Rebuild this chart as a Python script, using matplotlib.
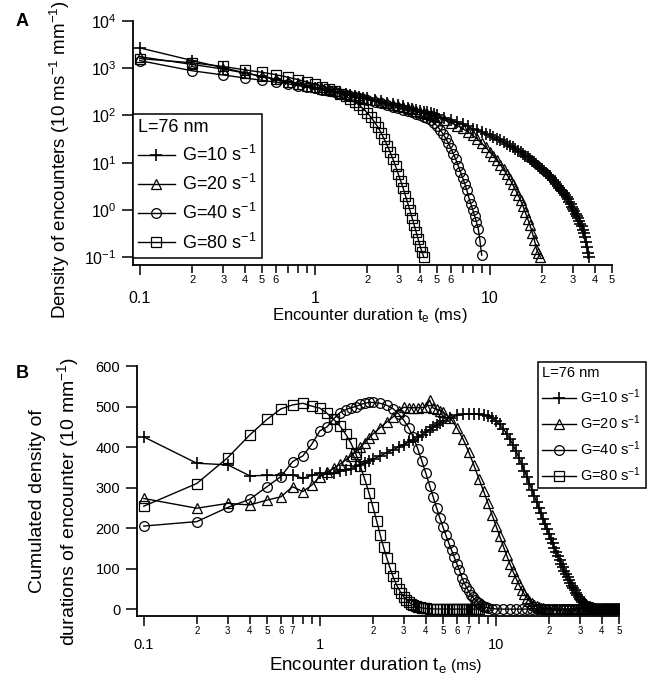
import matplotlib
matplotlib.use('Agg')
import matplotlib.pyplot as plt
from matplotlib.ticker import FixedLocator

plt.rcParams['font.family'] = ['Liberation Sans', 'DejaVu Sans']
plt.rcParams['mathtext.default'] = 'regular'

# ---------------- Panel A : density of encounters ----------------
tA_10 = [0.1, 0.2, 0.3, 0.4, 0.5, 0.6, 0.7, 0.8, 0.9, 1.0, 1.1, 1.2, 1.3, 1.4, 1.5, 1.6, 1.7, 1.8, 1.9, 2.0,
         2.2, 2.4, 2.6, 2.8, 3.0, 3.2, 3.4, 3.6, 3.8, 4.0, 4.2, 4.4, 4.6, 4.8, 5.0,
         5.5, 6.0, 6.5, 7.0, 7.5, 8.0, 8.5, 9.0, 9.5, 10.0, 10.5, 11.0, 11.5, 12.0, 12.5, 13.0, 13.5, 14.0,
         14.5, 15.0, 15.5, 16.0, 16.5, 17.0, 17.5, 18.0, 18.5, 19.0, 19.5, 20.0, 20.5, 21.0, 21.5, 22.0,
         22.5, 23.0, 23.5, 24.0, 24.5, 25.0, 25.5, 26.0, 26.5, 27.0, 27.5, 28.0, 28.5, 29.0, 29.5, 30.0,
         30.5, 31.0, 31.5, 32.0, 32.5, 33.0, 33.5, 34.0, 34.5, 35.0, 35.5, 36.0, 36.5, 37.0]
yA_10 = [2700, 1450, 1020, 800, 670, 580, 515, 465, 425, 390, 365, 340, 320, 302, 287, 273, 260, 249, 238, 229,
         212, 198, 186, 174, 163, 155, 147, 139, 132, 126, 121, 116, 111, 105, 100,
         89, 79, 72, 65, 59, 52, 48, 45, 41, 37.6, 34.7, 31.6, 29.5, 27, 24.8, 22.9, 21.1, 19.5,
         18, 16.6, 15.3, 14.1, 13, 12, 11.1, 10.2, 9.3, 8.6, 7.85, 7.2, 6.6, 6.1, 5.6, 5.1,
         4.7, 4.3, 3.9, 3.55, 3.2, 2.95, 2.7, 2.45, 2.24, 2.04, 1.86, 1.66, 1.48, 1.32, 1.17, 1.05,
         0.93, 0.83, 0.74, 0.66, 0.59, 0.51, 0.45, 0.38, 0.32, 0.26, 0.21, 0.16, 0.12, 0.10]

tA_20 = [0.1, 0.2, 0.3, 0.4, 0.5, 0.6, 0.7, 0.8, 0.9, 1.0, 1.1, 1.2, 1.3, 1.4, 1.5, 1.6, 1.7, 1.8, 1.9, 2.0,
         2.2, 2.4, 2.6, 2.8, 3.0, 3.2, 3.4, 3.6, 3.8, 4.0, 4.2, 4.4, 4.6, 4.8, 5.0,
         5.5, 6.0, 6.5, 7.0, 7.5, 8.0, 8.5, 9.0, 9.5, 10.0, 10.5, 11.0, 11.5, 12.0, 12.5, 13.0, 13.5, 14.0,
         14.5, 15.0, 15.5, 16.0, 16.5, 17.0, 17.5, 18.0, 18.5, 19.0, 19.5]
yA_20 = [1750, 1200, 960, 790, 670, 585, 520, 470, 430, 395, 368, 343, 322, 303, 287, 272, 259, 247, 236, 226,
         208, 193, 180, 169, 159, 150, 142, 134, 127, 120, 114, 108, 102, 97, 92,
         80, 70, 61, 53, 45, 38, 31.5, 25.7, 21, 17, 13.8, 11.2, 9.0, 7.2, 5.7, 4.5, 3.5, 2.7,
         2.1, 1.6, 1.2, 0.88, 0.64, 0.47, 0.33, 0.23, 0.15, 0.12, 0.10]

tA_40 = [0.1, 0.2, 0.3, 0.4, 0.5, 0.6, 0.7, 0.8, 0.9, 1.0, 1.1, 1.2, 1.3, 1.4, 1.5, 1.6, 1.7, 1.8, 1.9, 2.0,
         2.2, 2.4, 2.6, 2.8, 3.0, 3.2, 3.4, 3.6, 3.8, 4.0, 4.2, 4.4, 4.6, 4.8, 5.0, 5.2, 5.4, 5.6, 5.8, 6.0,
         6.2, 6.4, 6.6, 6.8, 7.0, 7.2, 7.4, 7.6, 7.8, 8.0, 8.2, 8.4, 8.6, 8.8, 9.0]
yA_40 = [1450, 880, 720, 620, 555, 505, 465, 430, 400, 372, 348, 327, 308, 291, 276, 262, 249, 237, 226, 215,
         196, 180, 166, 154, 143, 133, 124, 116, 108, 101, 94, 87, 79, 70, 60, 50, 41, 33, 26, 20,
         15.5, 11.7, 8.7, 6.4, 4.8, 3.6, 2.6, 1.8, 1.35, 1.0, 0.75, 0.55, 0.4, 0.22, 0.11]

tA_80 = [0.1, 0.2, 0.3, 0.4, 0.5, 0.6, 0.7, 0.8, 0.9, 1.0, 1.1, 1.2, 1.3, 1.4, 1.5, 1.6, 1.7, 1.8, 1.9, 2.0,
         2.1, 2.2, 2.3, 2.4, 2.5, 2.6, 2.7, 2.8, 2.9, 3.0, 3.1, 3.2, 3.3, 3.4, 3.5, 3.6, 3.7, 3.8, 3.9, 4.0,
         4.1, 4.2]
yA_80 = [1600, 1300, 1090, 920, 820, 730, 645, 575, 515, 460, 410, 365, 325, 290, 255, 222, 192, 163, 137, 113,
         91, 72, 56, 42, 31, 23, 16.5, 11.8, 8.3, 5.8, 4.1, 2.9, 2.0, 1.4, 0.98, 0.68, 0.48, 0.34, 0.24, 0.17,
         0.13, 0.10]

# ---------------- Panel B : cumulated density ----------------
tB_10 = tA_10 + [38, 39, 40, 41, 42, 43, 44, 45, 46, 47, 48, 49, 50]
yB_10 = [425, 360, 356, 329, 330, 330, 331, 323, 330, 335, 333, 336, 340, 343, 346, 352, 356, 360, 366, 370,
         378, 386, 393, 400, 406, 412, 418, 424, 430, 437, 443, 449, 454, 459, 464,
         472, 478, 481, 482, 482, 481, 480, 477, 472, 465, 456, 445, 433, 420, 405, 390, 374, 358,
         342, 326, 310, 295, 280, 265, 250, 236, 223, 210, 198, 186, 174, 163, 152, 141,
         131, 121, 112, 103, 95, 87, 79, 72, 65, 58, 52, 46, 40, 35, 30, 26,
         22, 18, 15, 12, 10, 8, 6, 4.5, 3.3, 2.4, 1.7, 1.2, 0.8, 0.5,
         0, 0, 0, 0, 0, 0, 0, 0, 0, 0, 0, 0, 0]

tB_20 = [0.1, 0.2, 0.3, 0.4, 0.5, 0.6, 0.7, 0.8, 0.9, 1.0, 1.1, 1.2, 1.3, 1.4, 1.5, 1.6, 1.7, 1.8, 1.9, 2.0,
         2.2, 2.4, 2.6, 2.8, 3.0, 3.2, 3.4, 3.6, 3.8, 4.0, 4.2, 4.4, 4.6, 4.8, 5.0,
         5.5, 6.0, 6.5, 7.0, 7.5, 8.0, 8.5, 9.0, 9.5, 10.0, 10.5, 11.0, 11.5, 12.0, 12.5, 13.0, 13.5, 14.0,
         14.5, 15.0, 15.5, 16.0, 16.5, 17.0, 17.5, 18.0, 18.5, 19.0, 19.5, 20.0,
         21, 22, 23, 24, 25, 26, 27, 28, 29, 30, 31, 32, 33, 34, 35, 36, 37, 38, 39, 40,
         41, 42, 43, 44, 45, 46, 47, 48, 49, 50]
yB_20 = [273, 249, 261, 257, 269, 277, 302, 290, 306, 327, 338, 348, 358, 368, 378, 388, 400, 411, 422, 432,
         448, 462, 474, 490, 498, 497, 497, 497, 498, 498, 516, 496, 494, 490, 486,
         472, 448, 420, 388, 355, 322, 292, 262, 233, 206, 180, 156, 133, 112, 93, 76, 61, 48,
         37, 28, 20, 14, 10, 7, 5, 3, 2, 1.2, 0.8, 0.5,
         0, 0, 0, 0, 0, 0, 0, 0, 0, 0, 0, 0, 0, 0, 0, 0, 0, 0, 0, 0,
         0, 0, 0, 0, 0, 0, 0, 0, 0, 0]

tB_40 = tA_40 + [9.5, 10, 11, 12, 13, 14, 15, 16, 17, 18, 19, 20, 21, 22, 23, 24, 25, 26, 27, 28, 29, 30,
                 31, 32, 33, 34, 35, 36, 37, 38, 39, 40, 41, 42, 43, 44, 45, 46, 47, 48, 49, 50]
yB_40 = [205, 216, 251, 271, 302, 327, 364, 378, 407, 440, 450, 470, 485, 492, 497, 500, 505, 508, 510, 510,
         508, 503, 495, 482, 466, 447, 424, 395, 365, 335, 305, 277, 250, 225, 203, 182, 163, 145, 128, 112,
         97, 78, 65, 54, 44, 36, 29, 23, 18, 14, 11, 8, 6, 4.5, 3.5,
         1.5, 0.5, 0, 0, 0, 0, 0, 0, 0, 0, 0, 0, 0, 0, 0, 0, 0, 0, 0, 0, 0, 0,
         0, 0, 0, 0, 0, 0, 0, 0, 0, 0, 0, 0, 0, 0, 0, 0, 0, 0, 0, 0]

tB_80 = [0.1, 0.2, 0.3, 0.4, 0.5, 0.6, 0.7, 0.8, 0.9, 1.0, 1.1, 1.2, 1.3, 1.4, 1.5, 1.6, 1.7, 1.8, 1.9, 2.0,
         2.1, 2.2, 2.3, 2.4, 2.5, 2.6, 2.7, 2.8, 2.9, 3.0, 3.1, 3.2, 3.3, 3.4, 3.5, 3.6, 3.7, 3.8, 3.9, 4.0,
         4.2, 4.4, 4.6, 4.8, 5.0, 5.2, 5.4, 5.6, 5.8, 6.0, 6.2, 6.4, 6.6, 6.8, 7.0, 7.2, 7.4, 7.6, 7.8, 8.0]
yB_80 = [254, 310, 374, 430, 468, 494, 504, 508, 501, 496, 483, 468, 452, 432, 410, 383, 352, 320, 287, 253,
         218, 184, 153, 126, 102, 81, 64, 50, 39, 30, 23, 17.5, 13, 10, 7.5, 5.6, 4.2, 3.1, 2.3, 1.7,
         1.0, 0.6, 0.4, 0.2, 0.1, 0, 0, 0, 0, 0, 0, 0, 0, 0, 0, 0, 0, 0, 0, 0]

series_labels = ['G=10 s$^{-1}$', 'G=20 s$^{-1}$', 'G=40 s$^{-1}$', 'G=80 s$^{-1}$']
legend_title = 'L=76 nm'
major_xticks = [0.1, 1, 10]
major_xlabels = ['0.1', '1', '10']
minor_xticks = [0.2, 0.3, 0.4, 0.5, 0.6, 0.7, 0.8, 0.9, 2, 3, 4, 5, 6, 7, 8, 9, 20, 30, 40, 50]
minor_labels_A = ['2', '3', '4', '5', '6', '', '', '', '2', '3', '4', '5', '6', '', '', '',
                  '2', '3', '4', '5']
minor_labels_B = ['2', '3', '4', '5', '6', '7', '', '', '2', '3', '4', '5', '6', '7', '', '',
                  '2', '3', '4', '5']
yticks_A = [0.1, 1, 10, 100, 1000, 10000]
yticks_B = [0, 100, 200, 300, 400, 500, 600]

styles = [dict(marker='+', ms=9, mew=1.2),
          dict(marker='^', ms=7, mew=0.9),
          dict(marker='o', ms=7, mew=0.9),
          dict(marker='s', ms=6.5, mew=0.9)]

W, H = 650, 681
fig = plt.figure(figsize=(W / 100, H / 100), dpi=100)
axA = fig.add_axes([133 / W, 1 - 265 / H, (612 - 133) / W, (265 - 21) / H])
axB = fig.add_axes([137 / W, 1 - 616 / H, (619 - 137) / W, (616 - 366) / H])

dataA = [(tA_10, yA_10), (tA_20, yA_20), (tA_40, yA_40), (tA_80, yA_80)]
dataB = [(tB_10, yB_10), (tB_20, yB_20), (tB_40, yB_40), (tB_80, yB_80)]

for (t, y), st, lab in zip(dataA, styles, series_labels):
    axA.plot(t, y, color='black', lw=1.0, fillstyle='none', mec='black', label=lab, **st)
for (t, y), st, lab in zip(dataB, styles, series_labels):
    axB.plot(t, y, color='black', lw=1.0, fillstyle='none', mec='black', label=lab, **st)


def style_x(ax, minor_labels, fs_major, fs_minor, major_pad):
    ax.set_xscale('log')
    ax.set_xlim(0.0915, 50)
    ax.xaxis.set_major_locator(FixedLocator(major_xticks))
    ax.set_xticks(major_xticks, labels=major_xlabels)
    ax.set_xticks(minor_xticks, labels=minor_labels, minor=True)
    ax.tick_params(axis='x', which='major', length=7.5, width=1.1, pad=major_pad, labelsize=fs_major)
    ax.tick_params(axis='x', which='minor', length=5.5, width=1.1, pad=1.5, labelsize=fs_minor)
    for s in ['top', 'right']:
        ax.spines[s].set_visible(False)
    for s in ['left', 'bottom']:
        ax.spines[s].set_linewidth(1.3)


style_x(axA, minor_labels_A, 11.5, 8, 11)
axA.set_yscale('log')
axA.set_ylim(0.068, 1e4)
axA.set_yticks(yticks_A)
axA.yaxis.set_minor_locator(FixedLocator([]))
axA.tick_params(axis='y', which='major', length=8, width=1.1, pad=4, labelsize=11.5)

style_x(axB, minor_labels_B, 10.5, 7, 8)
axB.set_ylim(-17, 600)
axB.set_yticks(yticks_B)
axB.tick_params(axis='y', which='major', length=8, width=1.1, pad=4, labelsize=10.5)

legA = axA.legend(loc='lower left', bbox_to_anchor=(0.0, 0.029), borderaxespad=0,
                  fontsize=13, title=legend_title, title_fontsize=13, alignment='left',
                  frameon=True, fancybox=False, edgecolor='black', framealpha=1,
                  handlelength=2.0, handletextpad=0.4, borderpad=0.3, labelspacing=0.5)
legA.get_frame().set_linewidth(1.1)

legB = axB.legend(loc='upper left', bbox_to_anchor=(0.832, 1.016), borderaxespad=0,
                  fontsize=10.5, title=legend_title, title_fontsize=10.5, alignment='left',
                  frameon=True, fancybox=False, edgecolor='black', framealpha=1,
                  handlelength=2.3, handletextpad=0.3, borderpad=0.3, labelspacing=0.5)
legB.get_frame().set_linewidth(1.1)

# labels
fig.text(60 / W, 1 - 160 / H, 'Density of encounters (10 ms$^{-1}$ mm$^{-1}$)', rotation=90,
         ha='center', va='center', fontsize=13.5)
fig.text(370 / W, 1 - 315 / H, 'Encounter duration t$_e$ (ms)', ha='center', va='center', fontsize=12)
fig.text(55 / W, 1 - 501 / H, 'Cumulated density of\ndurations of encounter (10 mm$^{-1}$)',
         rotation=90, ha='center', va='center', fontsize=14, linespacing=1.5, multialignment='center')
fig.text(447 / W, 1 - 670 / H, 'Encounter duration t$_e$', ha='right', va='baseline', fontsize=13.5)
fig.text(451 / W, 1 - 670 / H, '(ms)', ha='left', va='baseline', fontsize=11)
fig.text(22 / W, 1 - 21 / H, 'A', ha='center', va='center', fontsize=13, fontweight='bold')
fig.text(22 / W, 1 - 373 / H, 'B', ha='center', va='center', fontsize=13, fontweight='bold')

fig.savefig('out.png', dpi=100)
